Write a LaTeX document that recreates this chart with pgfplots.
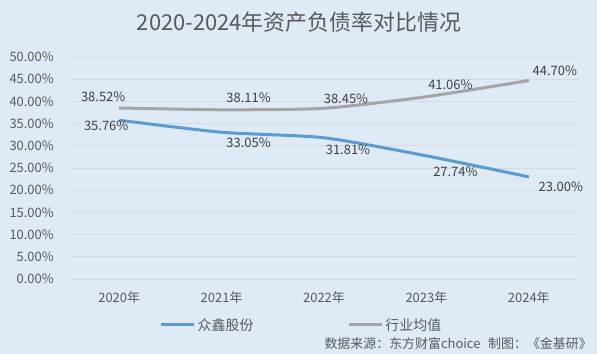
\documentclass[border=0pt]{standalone}
\usepackage{fontspec}
\setmainfont{Noto Sans CJK SC}
\usepackage{pgfplots}
\pgfplotsset{compat=1.18}
\definecolor{bg}{HTML}{DEEBF7}
\definecolor{titlec}{HTML}{595959}
\definecolor{tickc}{HTML}{595959}
\definecolor{labc}{HTML}{404040}
\definecolor{gridc}{HTML}{D9D9D9}
\definecolor{blueline}{HTML}{5B9BD5}
\definecolor{grayline}{HTML}{A5A5A5}
\begin{document}
\begin{tikzpicture}
\fill[bg] (0bp,0bp) rectangle (597bp,354bp);
\path[use as bounding box] (0bp,0bp) rectangle (597bp,354bp);
\node[text=titlec, font=\fontsize{22}{26}\selectfont, inner sep=0] at (299bp,332bp) {2020-2024年资产负债率对比情况};
\begin{axis}[
  at={(68bp,75bp)}, anchor=south west,
  scale only axis, width=512bp, height=222bp,
  xmin=-0.5, xmax=4.5, ymin=0, ymax=50,
  ytick={0,5,...,50},
  xtick={0,1,2,3,4},
  xticklabels={2020年,2021年,2022年,2023年,2024年},
  axis line style={draw=none},
  tick style={draw=none},
  ymajorgrids,
  major grid style={draw=gridc, line width=0.8bp},
  /pgf/number format/assume math mode=true,
  yticklabel={\pgfmathprintnumber[fixed,fixed zerofill,precision=2]{\tick}\%},
  yticklabel style={font=\fontsize{13}{15}\selectfont, text=tickc, inner sep=0, anchor=east, xshift=-14bp},
  xticklabel style={font=\fontsize{13}{15}\selectfont, text=tickc, inner sep=0, anchor=center, yshift=-19bp},
  legend style={at={(0.456,-0.207)}, anchor=center, draw=none, fill=none,
    legend columns=2, font=\fontsize{14}{16}\selectfont, text=tickc,
    /tikz/every even column/.append style={column sep=92bp},
    inner sep=0},
  legend image code/.code={\draw[#1] (0bp,0bp) -- (33bp,0bp);},
  clip=false,
]
\addplot[blueline, line width=3bp, smooth, tension=0.4] coordinates {(0,35.76) (1,33.05) (2,31.81) (3,27.74) (4,23.00)};
\addlegendentry{众鑫股份}
\addplot[grayline, line width=3bp, smooth, tension=0.4] coordinates {(0,38.52) (1,38.11) (2,38.45) (3,41.06) (4,44.70)};
\addlegendentry{行业均值}
\begin{scope}[every node/.style={font=\fontsize{13}{15}\selectfont, text=labc, inner sep=0}]
\node[xshift=-16bp, yshift=11bp] at (axis cs:0,38.52) {38.52\%};
\node[xshift=27bp, yshift=12bp] at (axis cs:1,38.11) {38.11\%};
\node[xshift=22bp, yshift=10bp] at (axis cs:2,38.45) {38.45\%};
\node[xshift=24bp, yshift=12bp] at (axis cs:3,41.06) {41.06\%};
\node[xshift=26bp, yshift=10bp] at (axis cs:4,44.70) {44.70\%};
\node[xshift=-13bp, yshift=-6bp] at (axis cs:0,35.76) {35.76\%};
\node[xshift=27bp, yshift=-10bp] at (axis cs:1,33.05) {33.05\%};
\node[xshift=24bp, yshift=-12bp] at (axis cs:2,31.81) {31.81\%};
\node[xshift=29bp, yshift=-16bp] at (axis cs:3,27.74) {27.74\%};
\node[xshift=32bp, yshift=-10bp] at (axis cs:4,23.00) {23.00\%};
\end{scope}
\end{axis}
\node[anchor=east, text=tickc, font=\fontsize{13}{15}\selectfont, inner sep=0] at (592bp,10bp) {数据来源：东方财富choice\hspace{0.6em}制图：《金基研》};
\end{tikzpicture}
\end{document}
